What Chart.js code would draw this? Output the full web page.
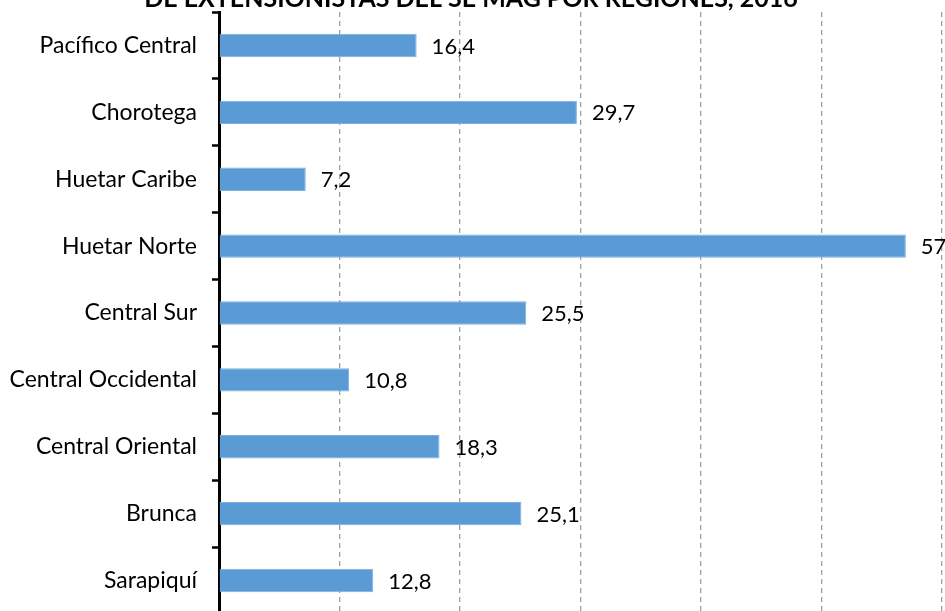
<!DOCTYPE html>
<html>
<head>
<meta charset="utf-8">
<script src="https://cdn.jsdelivr.net/npm/chart.js@4.4.1/dist/chart.umd.min.js"></script>
<style>
  html, body { margin: 0; padding: 0; overflow: hidden; background: #fff; }
  body { width: 945px; height: 611px; position: relative; }
  #wrap { position: absolute; left: 0; top: -26px; width: 960px; height: 670px; }
</style>
</head>
<body>
<div id="wrap"><canvas id="myChart"></canvas></div>
<script>
// regiones y valores (%)
var regiones = ["Pacífico Central", "Chorotega", "Huetar Caribe", "Huetar Norte", "Central Sur",
  "Central Occidental", "Central Oriental", "Brunca", "Sarapiquí"];
var valores = [16.4, 29.7, 7.2, 57, 25.5, 10.8, 18.3, 25.1, 12.8];
var ejeMax = 60;
var ejePaso = 10;

// etiquetas al final de cada barra
var etiquetas = {
  id: 'etiquetas',
  afterDatasetsDraw: function(chart) {
    var ctx = chart.ctx;
    var meta = chart.getDatasetMeta(0);
    ctx.save();
    ctx.font = '22px Lato';
    ctx.fillStyle = '#000';
    ctx.textAlign = 'left';
    ctx.textBaseline = 'middle';
    meta.data.forEach(function(bar, i) {
      var txt = String(valores[i]).replace('.', ',');
      ctx.fillText(txt, bar.x + 15, bar.y + 1);
    });
    ctx.restore();
  }
};

var ctx = document.getElementById("myChart").getContext('2d');
var myChart = new Chart(ctx, {
  type: 'bar',
  data: {
    labels: regiones,
    datasets: [{
      backgroundColor: "#5B9BD5",
      borderColor: "#7DAFDF",
      borderWidth: 1,
      data: valores,
      categoryPercentage: 1,
      barPercentage: 0.35
    }]
  },
  plugins: [etiquetas],
  options: {
    indexAxis: 'y',
    responsive: true,
    maintainAspectRatio: false,
    animation: false,
    layout: { padding: { left: 0, right: 18, top: 0, bottom: 0 } },
    plugins: {
      legend: { display: false },
      tooltip: { enabled: false },
      title: {
        display: true,
        text: 'DE EXTENSIONISTAS DEL SE MAG POR REGIONES, 2016',
        color: '#000',
        font: { family: 'Lato', size: 25, weight: 'bold' },
        padding: { top: 10, bottom: -2 }
      }
    },
    scales: {
      x: {
        min: 0,
        max: ejeMax,
        ticks: { stepSize: ejePaso, color: '#000', font: { family: 'Lato', size: 20 } },
        grid: { color: '#a0a0a0', lineWidth: 1.3, drawTicks: false },
        border: { display: false, dash: [5, 4] },
        afterFit: function(scale) { scale.height = 30; }
      },
      y: {
        ticks: { color: '#000', padding: 15, font: { family: 'Lato', size: 23 } },
        grid: { drawOnChartArea: false, tickLength: 7, tickColor: '#000', tickWidth: 2.5 },
        border: { color: '#000', width: 3 },
        afterFit: function(scale) { scale.width = 219; }
      }
    }
  }
});
</script>
</body>
</html>
